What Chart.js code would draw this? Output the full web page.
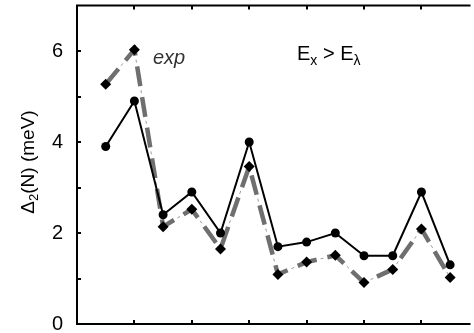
<!DOCTYPE html>
<html>
<head>
<meta charset="utf-8">
<script src="https://cdn.jsdelivr.net/npm/chart.js@4.4.1/dist/chart.umd.min.js"></script>
<style>
  html, body { margin: 0; padding: 0; background: #fff; overflow: hidden; }
  #wrap { width: 474px; height: 333px; }
</style>
</head>
<body>
<div id="wrap"><canvas id="c" width="474" height="333"></canvas></div>
<script>
// Cluster size index along the horizontal axis
const nValues = [1, 2, 3, 4, 5, 6, 7, 8, 9, 10, 11, 12, 13];
// Calculated gap Δ2(N) in meV (solid line, circles)
const theory = [3.9, 4.9, 2.4, 2.9, 2.0, 4.0, 1.7, 1.8, 2.0, 1.5, 1.5, 2.9, 1.3];
// Experimental gap Δ2(N) in meV (gray dashed line, diamonds)
const experiment = [5.27, 6.03, 2.14, 2.52, 1.65, 3.46, 1.09, 1.36, 1.51, 0.91, 1.20, 2.09, 1.02];
// Labelled ticks on the vertical axis
const yTickLabels = [0, 2, 4, 6];
// Tick positions on the horizontal axis
const xTickValues = [2, 4, 6, 8, 10, 12];

const FONT = '"Liberation Sans", Arial, Helvetica, sans-serif';

const pts = arr => arr.map((v, i) => ({ x: nValues[i], y: v }));

// Frame, inward tick marks and in-plot text
const framePlugin = {
  id: 'frame',
  afterDraw(chart) {
    const { ctx, chartArea: a, scales: { x, y } } = chart;
    ctx.save();
    ctx.strokeStyle = '#000';
    ctx.lineWidth = 2;
    ctx.beginPath();
    ctx.moveTo(a.left, a.bottom); ctx.lineTo(a.left, a.top); ctx.lineTo(a.right + 2, a.top);
    ctx.moveTo(a.left - 1, a.bottom); ctx.lineTo(a.right + 2, a.bottom);
    ctx.stroke();
    ctx.beginPath();
    xTickValues.forEach(v => {
      const px = Math.round(x.getPixelForValue(v));
      ctx.moveTo(px, a.bottom); ctx.lineTo(px, a.bottom - 4);
      ctx.moveTo(px, a.top); ctx.lineTo(px, a.top + 4);
    });
    for (let v = 1; v < 7; v++) {
      const py = Math.round(y.getPixelForValue(v));
      ctx.moveTo(a.left, py); ctx.lineTo(a.left + 4, py);
    }
    ctx.stroke();

    // series label
    ctx.fillStyle = '#333';
    ctx.font = 'italic 20px ' + FONT;
    ctx.textBaseline = 'alphabetic';
    ctx.textAlign = 'left';
    ctx.fillText('exp', 153, 64);

    // condition label E_x > E_λ
    ctx.fillStyle = '#000';
    let cx = 297;
    const base = 60;
    const big = '20px ' + FONT, small = '14px ' + FONT;
    ctx.font = big; ctx.fillText('E', cx, base); cx += ctx.measureText('E').width;
    ctx.font = small; ctx.fillText('x', cx, base + 5); cx += ctx.measureText('x').width;
    ctx.font = big; ctx.fillText(' > E', cx, base); cx += ctx.measureText(' > E').width;
    ctx.font = small; ctx.fillText('λ', cx, base + 5);

    // vertical axis title Δ2(N) (meV)
    ctx.save();
    ctx.translate(34, 162);
    ctx.rotate(-Math.PI / 2);
    const p1 = 'Δ', p2 = '2', p3 = '(N) (meV)';
    const f1 = '19px ' + FONT, f2 = '13px ' + FONT;
    ctx.font = f1; const w1 = ctx.measureText(p1).width, w3 = ctx.measureText(p3).width;
    ctx.font = f2; const w2 = ctx.measureText(p2).width;
    let tx = -(w1 + w2 + w3) / 2;
    ctx.font = f1; ctx.fillText(p1, tx, 0); tx += w1;
    ctx.font = f2; ctx.fillText(p2, tx, 4); tx += w2;
    ctx.font = f1; ctx.fillText(p3, tx, 0);
    ctx.restore();
    ctx.restore();
  }
};

new Chart(document.getElementById('c'), {
  type: 'line',
  data: {
    datasets: [
      {
        label: 'theory',
        data: pts(theory),
        borderColor: '#000',
        borderWidth: 2,
        pointStyle: 'circle',
        pointRadius: 4.5,
        pointBackgroundColor: '#000',
        pointBorderColor: '#000',
        pointBorderWidth: 0,
        tension: 0,
        order: 1
      },
      {
        label: 'exp',
        data: pts(experiment),
        borderColor: '#6f6f6f',
        borderWidth: 4.5,
        borderDash: [20, 11],
        borderCapStyle: 'butt',
        pointStyle: 'rectRot',
        pointRadius: 5.5,
        pointBackgroundColor: '#000',
        pointBorderColor: '#000',
        pointBorderWidth: 0,
        tension: 0,
        order: 2
      },
      {
        label: 'exp-dots',
        data: pts(experiment),
        borderColor: '#9a9a9a',
        borderWidth: 1,
        borderDash: [3, 28],
        borderDashOffset: 7,
        pointRadius: 0,
        tension: 0,
        order: 3
      }
    ]
  },
  options: {
    responsive: false,
    animation: false,
    events: [],
    layout: { padding: { top: 5, right: 0, left: 0, bottom: 0 } },
    plugins: { legend: { display: false }, tooltip: { enabled: false } },
    scales: {
      x: {
        type: 'linear',
        min: 0,
        max: 13.64,
        grid: { display: false, drawTicks: false },
        border: { display: false },
        ticks: { display: false },
        afterFit(s) {
          s.height = 9;
          s.paddingLeft = 0; s.paddingRight = 0;
        }
      },
      y: {
        type: 'linear',
        min: 0,
        max: 7,
        grid: { display: false, drawTicks: false },
        border: { display: false },
        ticks: {
          stepSize: 1,
          padding: 14,
          color: '#000',
          font: { family: FONT, size: 20 },
          callback: v => yTickLabels.includes(v) ? String(v) : ''
        },
        afterFit(s) {
          s.width = 77;
          s.paddingTop = 0; s.paddingBottom = 0;
        }
      }
    }
  },
  plugins: [framePlugin]
});
</script>
</body>
</html>
